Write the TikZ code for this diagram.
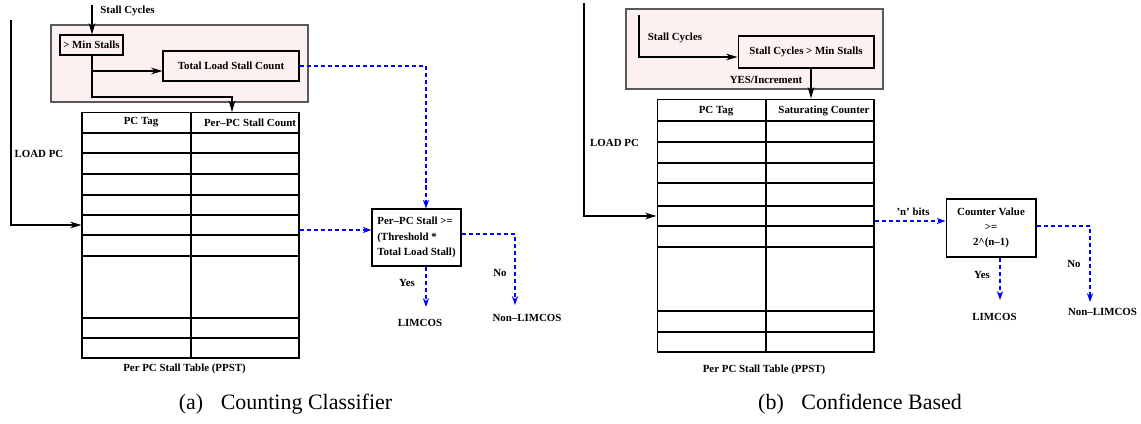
\documentclass[tikz,border=0pt]{standalone}
\usepackage{fontspec}
\setmainfont{Liberation Serif}
\usepackage{xcolor}
\usetikzlibrary{arrows.meta}
\definecolor{pinkbg}{RGB}{253,240,240}

\begin{document}
\begin{tikzpicture}[x=0.02cm,y=-0.02cm,
  lbl/.style={font=\bfseries\fontsize{6.2}{8.7}\selectfont, inner sep=0pt},
  box/.style={draw, line width=0.6pt, inner sep=0pt, lbl},
  unit/.style={draw=black!65, line width=0.9pt, fill=pinkbg, inner sep=0pt},
  tbl/.style={draw, line width=0.6pt, inner sep=0pt},
  blk/.style={line width=0.6pt, -{Stealth[length=6.5pt,width=3.8pt]}},
  blu/.style={blue, line width=1.1pt, dash pattern=on 2.3pt off 1.7pt, -{Stealth[length=5pt,width=3.5pt]}},
  captxt/.style={font=\fontsize{12.5}{14}\selectfont, inner sep=0pt}]
  \useasboundingbox (0,0) rectangle (1141,423);

  % (a) counting classifier
  \node[unit, minimum width=5.14cm, minimum height=1.54cm] (unitA) at (179.5,63.5) {};
  \node[box, minimum width=1.26cm, minimum height=0.4cm] (minA) at (91.5,45) {> Min Stalls};
  \node[box, minimum width=2.72cm, minimum height=0.6cm] (totA) at (231,66) {Total Load Stall Count};
  \node[lbl] (scA) at (127.5,11) {Stall Cycles};
  \coordinate (scAin) at (92,5);
  \coordinate (brA1) at (92,71);
  \coordinate (brA2) at (92,97);
  \coordinate (tabAin) at (232,112);
  \draw[blk] (scAin) -- (minA.north -| scAin);
  \draw[blk] (brA1) -- (brA1 -| totA.west);
  \draw[blk] (minA.south -| brA2) -- (brA2) -| (tabAin);

  \node[tbl, minimum width=4.34cm, minimum height=4.92cm] (tabA) at (190.5,235) {};
  \foreach \y in {133,153,174,195,215,235,256,318,338}{
    \draw[line width=0.6pt] (82,\y) -- (299,\y);
  }
  \draw[line width=0.6pt] (191,112) -- (191,358);
  \node[lbl] (tagA) at (141,122.5) {PC Tag};
  \node[lbl] (cntA) at (250,122.5) {Per–PC Stall Count};
  \node[lbl] (ppstA) at (184.5,369) {Per PC Stall Table (PPST)};

  \node[lbl] (ldA) at (39,154) {LOAD PC};
  \coordinate (ldAtop) at (11,20);
  \coordinate (ldAcor) at (11,225);
  \draw[blk] (ldAtop) -- (ldAcor) -- (ldAcor -| tabA.west);

  \node[box, minimum width=1.78cm, minimum height=1.14cm, align=left] (decA) at (416.5,237.5)
    {Per–PC Stall >=\\(Threshold *\\Total Load Stall)};
  \coordinate (aX) at (426,0);
  \coordinate (aIn) at (0,230);
  \draw[blu] (totA.east) -| (decA.north -| aX);
  \draw[blu] (tabA.east |- aIn) -- (decA.west |- aIn);

  \node[lbl] (yesAl) at (407,283) {Yes};
  \node[lbl] (limA) at (420,323) {LIMCOS};
  \coordinate (yesA) at (426,307);
  \draw[blu] (decA.south -| aX) -- (yesA);
  \node[lbl] (noAl) at (500,273) {No};
  \node[lbl] (nonA) at (527,318) {Non–LIMCOS};
  \coordinate (noA) at (515,234);
  \coordinate (noAend) at (515,305);
  \draw[blu] (decA.east |- noA) -- (noA) -- (noAend);

  \node[captxt] (capA) at (285.5,404) {(a)\hspace{10pt}Counting Classifier};

  % (b) confidence based
  \node[unit, minimum width=5.14cm, minimum height=1.6cm] (unitB) at (754.5,49) {};
  \node[box, minimum width=2.72cm, minimum height=0.64cm] (scB) at (806,52) {Stall Cycles > Min Stalls};
  \node[lbl] (scBl) at (675,38) {Stall Cycles};
  \coordinate (scBtop) at (639,15);
  \coordinate (scBcor) at (639,57);
  \draw[blk] (scBtop) -- (scBcor) -- (scBcor -| scB.west);

  \node[tbl, minimum width=4.34cm, minimum height=5.06cm] (tabB) at (765.5,225.5) {};
  \foreach \y in {121,142,163,183,206,226,247,311,332}{
    \draw[line width=0.6pt] (657,\y) -- (874,\y);
  }
  \draw[line width=0.6pt] (766,99) -- (766,352);
  \node[lbl] (tagB) at (716,111) {PC Tag};
  \node[lbl] (cntB) at (824,111) {Saturating Counter};
  \node[lbl] (ppstB) at (764,370) {Per PC Stall Table (PPST)};

  \coordinate (scBout) at (811,0);
  \draw[blk] (scB.south -| scBout) -- (tabB.north -| scBout);
  \node[lbl] (incB) at (766,80) {YES/Increment};

  \node[lbl] (ldB) at (614.5,143) {LOAD PC};
  \coordinate (ldBtop) at (584,3);
  \coordinate (ldBcor) at (584,216);
  \draw[blk] (ldBtop) -- (ldBcor) -- (ldBcor -| tabB.west);

  \node[box, minimum width=1.8cm, minimum height=1.16cm, align=center] (decB) at (991,228)
    {Counter Value\\>=\\2\textasciicircum(n–1)};
  \coordinate (bIn) at (0,221);
  \draw[blu] (tabB.east |- bIn) -- (decB.west |- bIn);
  \node[lbl] (nbits) at (913,212) {'n' bits};

  \coordinate (bX) at (1000,0);
  \coordinate (yesB) at (1000,300);
  \draw[blu] (decB.south -| bX) -- (yesB);
  \node[lbl] (yesBl) at (982,275) {Yes};
  \node[lbl] (limB) at (994.5,317) {LIMCOS};
  \coordinate (noB) at (1090,226);
  \coordinate (noBend) at (1090,302);
  \draw[blu] (decB.east |- noB) -- (noB) -- (noBend);
  \node[lbl] (noBl) at (1074,264) {No};
  \node[lbl] (nonB) at (1102.5,312) {Non–LIMCOS};

  \node[captxt] (capB) at (860,404) {(b)\hspace{10pt}Confidence Based};
\end{tikzpicture}
\end{document}
